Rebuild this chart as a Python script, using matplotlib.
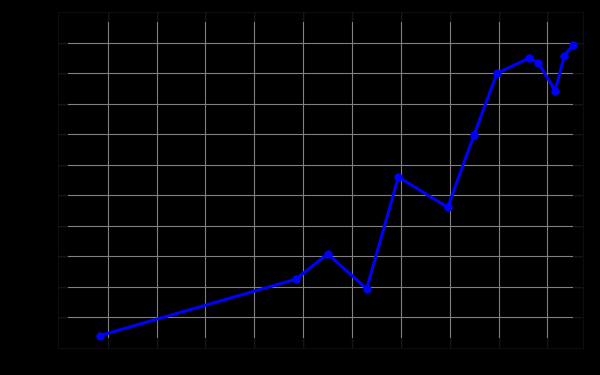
import matplotlib
matplotlib.use("Agg")
import matplotlib.pyplot as plt

x_vals = [-0.16, 3.85, 4.50, 5.30, 5.95, 6.96, 7.50, 7.97, 8.62, 8.81, 9.16, 9.35, 9.53]
y_vals = [-0.61, 1.24, 2.07, 0.93, 4.60, 3.60, 5.99, 8.01, 8.50, 8.36, 7.44, 8.59, 8.94]
x_ticks = list(range(0, 10))
y_ticks = list(range(0, 10))

fig = plt.figure(figsize=(6, 3.75), dpi=100, facecolor="black")
ax = fig.add_axes([58/600, 27/375, 525/600, 336/375])
ax.set_facecolor("black")

ax.plot(x_vals, y_vals, color="#0000ff", lw=2.2, marker="o", ms=5, zorder=3)

ax.set_xlim(-1.02, 9.73)
ax.set_ylim(-1.02, 10.02)
ax.set_xticks(x_ticks)
ax.set_yticks(y_ticks)
ax.grid(True, color="#808080", lw=0.8)
ax.set_axisbelow(False)
ax.tick_params(direction="in", length=7, width=1.2, color="black",
               labelcolor="black", top=True, right=True, zorder=4)
for s in ax.spines.values():
    s.set_color("#0e0e0e")
    s.set_linewidth(0.8)

fig.savefig("out.png", dpi=100, facecolor="black")
